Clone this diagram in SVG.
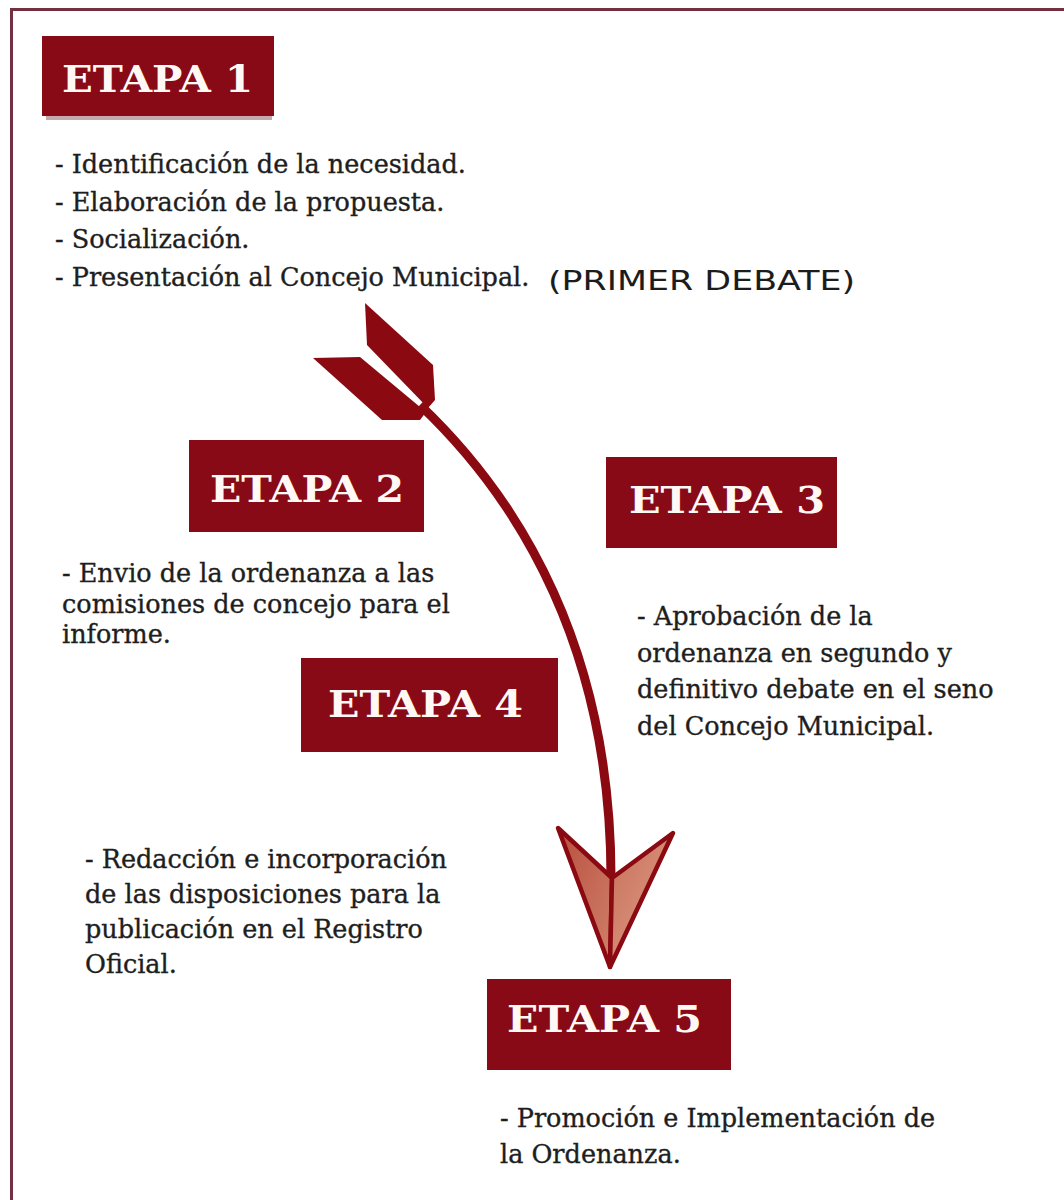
<svg xmlns="http://www.w3.org/2000/svg" width="1064" height="1200" viewBox="0 0 1064 1200">
  <defs>
    <style>
      .box { fill: #870a16; }
      .shadow { fill: #5c0a10; opacity: 0.35; }
      .title { font-family: "DejaVu Serif", "Liberation Serif", serif; font-weight: bold; font-size: 37px; fill: #fff8f4; }
      .body { font-family: "DejaVu Serif", "Liberation Serif", serif; font-size: 25.5px; fill: #1e1e1e; stroke: #1e1e1e; stroke-width: 0.35px; }
      .note { font-family: "DejaVu Sans", "Liberation Sans", sans-serif; font-size: 26px; fill: #1c1c1c; }
      .dark { fill: #8b0a12; }
    </style>
    <linearGradient id="headL" x1="0" y1="0" x2="1" y2="1">
      <stop offset="0" stop-color="#b8503f"/>
      <stop offset="1" stop-color="#d0806a"/>
    </linearGradient>
    <linearGradient id="headR" x1="0" y1="0" x2="1" y2="1">
      <stop offset="0" stop-color="#c8705a"/>
      <stop offset="1" stop-color="#e0a08a"/>
    </linearGradient>
  </defs>
  <rect width="1064" height="1200" fill="#ffffff"/>
  <rect x="11.5" y="9.5" width="1100" height="1250" fill="none" stroke="#733040" stroke-width="3"/>

  <g id="connectors">
    <path d="M 420 405 C 520 500, 612 650, 611 882" fill="none" stroke="#8b0a12" stroke-width="9"/>
    <polygon class="dark" points="365,303 367,345 428,408 435,400 433,365"/>
    <polygon class="dark" points="313,358 360,357 426,412 420,420 382,420"/>
    <polygon points="558,828 612,878 610,967" fill="url(#headL)" stroke="#8b0a12" stroke-width="4.5" stroke-linejoin="round"/>
    <polygon points="673,833 612,878 610,967" fill="url(#headR)" stroke="#8b0a12" stroke-width="4.5" stroke-linejoin="round"/>
  </g>

  <g id="etapa1">
    <rect class="shadow" x="46" y="112" width="226" height="8"/>
    <rect class="box" x="42" y="36" width="232" height="80"/>
    <text class="title" x="62" y="92" textLength="191" lengthAdjust="spacingAndGlyphs">ETAPA 1</text>
    <text class="body" x="55" y="173">- Identificación de la necesidad.</text>
    <text class="body" x="55" y="211">- Elaboración de la propuesta.</text>
    <text class="body" x="55" y="248">- Socialización.</text>
    <text class="body" x="55" y="286">- Presentación al Concejo Municipal.</text>
    <text class="note" x="548" y="290" textLength="307" lengthAdjust="spacingAndGlyphs">(PRIMER DEBATE)</text>
  </g>

  <g id="etapa2">
    <rect class="box" x="189" y="440" width="235" height="92"/>
    <text class="title" x="210" y="502" textLength="194" lengthAdjust="spacingAndGlyphs">ETAPA 2</text>
    <text class="body" x="62" y="582">- Envio de la ordenanza a las</text>
    <text class="body" x="62" y="613">comisiones de concejo para el</text>
    <text class="body" x="62" y="643">informe.</text>
  </g>

  <g id="etapa3">
    <rect class="box" x="606" y="457" width="231" height="91"/>
    <text class="title" x="629" y="513" textLength="196" lengthAdjust="spacingAndGlyphs">ETAPA 3</text>
    <text class="body" x="637" y="625">- Aprobación de la</text>
    <text class="body" x="637" y="662">ordenanza en segundo y</text>
    <text class="body" x="637" y="698">definitivo debate en el seno</text>
    <text class="body" x="637" y="735">del Concejo Municipal.</text>
  </g>

  <g id="etapa4">
    <rect class="box" x="301" y="658" width="257" height="94"/>
    <text class="title" x="328" y="717" textLength="195" lengthAdjust="spacingAndGlyphs">ETAPA 4</text>
    <text class="body" x="85" y="868">- Redacción e incorporación</text>
    <text class="body" x="85" y="903">de las disposiciones para la</text>
    <text class="body" x="85" y="938">publicación en el Registro</text>
    <text class="body" x="85" y="973">Oficial.</text>
  </g>

  <g id="etapa5">
    <rect class="box" x="487" y="979" width="244" height="91"/>
    <text class="title" x="507" y="1032" textLength="195" lengthAdjust="spacingAndGlyphs">ETAPA 5</text>
    <text class="body" x="500" y="1127">- Promoción e Implementación de</text>
    <text class="body" x="500" y="1163">la Ordenanza.</text>
  </g>
</svg>
